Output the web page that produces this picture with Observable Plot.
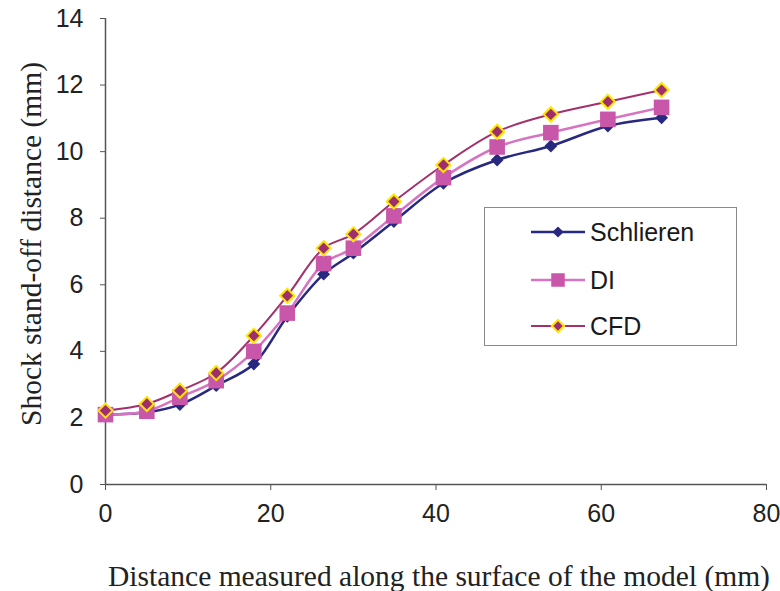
<!DOCTYPE html>
<html>
<head>
<meta charset="utf-8">
<script src="https://cdn.jsdelivr.net/npm/d3@7"></script>
<script src="https://cdn.jsdelivr.net/npm/@observablehq/plot@0.6"></script>
<style>
  html, body { margin: 0; padding: 0; background: #fff; }
  #wrap { position: relative; width: 780px; height: 591px; overflow: hidden; }
  .ytitle { position: absolute; left: 31px; top: 244px; transform: translate(-50%, -50%) rotate(-90deg);
    font-family: "Liberation Serif", "DejaVu Serif", serif; font-size: 29.5px; color: #222; white-space: nowrap; }
  .xtitle { position: absolute; left: 439px; top: 576px; transform: translate(-50%, -50%);
    font-family: "Liberation Serif", "DejaVu Serif", serif; font-size: 29.5px; color: #222; white-space: nowrap; }
  #legend { position: absolute; left: 484px; top: 207px; width: 253px; height: 139px;
    border: 1.5px solid #8a8a8a; background: #fff; box-sizing: border-box; }
  .row { position: absolute; left: 46px; height: 30px; display: flex; align-items: center;
    font-family: "Liberation Sans", Arial, sans-serif; font-size: 25px; color: #1a1a1a; }
  .row svg { margin-right: 5px; }
</style>
</head>
<body>
<div id="wrap">
  <div id="chart"></div>
  <div class="ytitle">Shock stand-off distance (mm)</div>
  <div class="xtitle">Distance measured along the surface of the model (mm)</div>
  <div id="legend"></div>
</div>
<script>
const distance = [0, 5.0, 9.0, 13.4, 17.95, 22.0, 26.4, 30.0, 34.9, 40.9, 47.4, 53.9, 60.8, 67.3];
const schlieren = [2.1, 2.17, 2.4, 2.97, 3.62, 5.05, 6.32, 6.95, 7.9, 9.05, 9.75, 10.17, 10.77, 11.02];
const di = [2.1, 2.2, 2.62, 3.12, 4.0, 5.15, 6.64, 7.1, 8.07, 9.22, 10.14, 10.57, 10.97, 11.33];
const cfd = [2.22, 2.42, 2.82, 3.35, 4.47, 5.67, 7.1, 7.52, 8.5, 9.6, 10.6, 11.12, 11.5, 11.85];
const seriesNames = ["Schlieren", "DI", "CFD"];
const xTicks = [0, 20, 40, 60, 80];
const yTicks = [0, 2, 4, 6, 8, 10, 12, 14];

const styles = {
  Schlieren: {line: "#27287f", width: 2.5, symbol: "diamond2", r: 5.8, fill: "#27287f", stroke: "none", sw: 0},
  DI: {line: "#d674c2", width: 2.5, symbol: "square", r: 8.8, fill: "#c957a9", stroke: "none", sw: 0},
  CFD: {line: "#a3306b", width: 2, symbol: "diamond2", r: 6.4, fill: "#9e2e6e", stroke: "#ffe600", sw: 2}
};

const valuesBy = {Schlieren: schlieren, DI: di, CFD: cfd};
const marks = [];
for (const name of seriesNames) {
  const s = styles[name];
  const data = distance.map((x, i) => ({x, y: valuesBy[name][i]}));
  marks.push(Plot.line(data, {x: "x", y: "y", stroke: s.line, strokeWidth: s.width, curve: "catmull-rom"}));
}
for (const name of seriesNames) {
  const s = styles[name];
  const data = distance.map((x, i) => ({x, y: valuesBy[name][i]}));
  marks.push(Plot.dot(data, {x: "x", y: "y", symbol: () => s.symbol, r: s.r, fill: s.fill,
    stroke: s.stroke, strokeWidth: s.sw}));
}

const chart = Plot.plot({
  width: 780, height: 591,
  marginLeft: 105, marginRight: 14, marginTop: 18, marginBottom: 107,
  style: {fontFamily: "Liberation Sans, Arial, sans-serif", color: "#222", background: "#fff"},
  x: {domain: [0, 80]},
  y: {domain: [0, 14]},
  symbol: {type: "identity"},
  marks: [
    Plot.axisY({ticks: yTicks, tickSize: 5, tickPadding: 17, label: null, stroke: "#555", fontSize: 25}),
    Plot.axisX({ticks: xTicks, tickSize: 6, tickPadding: 14, label: null, stroke: "#555", fontSize: 25}),
    Plot.ruleX([0], {stroke: "#555", strokeWidth: 1.5}),
    Plot.ruleY([0], {stroke: "#555", strokeWidth: 1.5}),
    ...marks
  ]
});
document.getElementById("chart").appendChild(chart);

// legend
const legend = document.getElementById("legend");
const rowTops = [9, 57, 103];
seriesNames.forEach((name, i) => {
  const s = styles[name];
  const row = document.createElement("div");
  row.className = "row";
  row.style.top = rowTops[i] + "px";
  const sym = d3.symbol(s.symbol === "square" ? d3.symbolSquare : d3.symbolDiamond2, Math.PI * s.r * s.r * 0.75)();
  row.innerHTML = `<svg width="54" height="30"><line x1="0" x2="54" y1="15" y2="15" stroke="${s.line}" stroke-width="${s.width}"/>` +
    `<path d="${sym}" transform="translate(27,15)" fill="${s.fill}" stroke="${s.stroke}" stroke-width="${s.sw}"/></svg><span>${name}</span>`;
  legend.appendChild(row);
});
</script>
</body>
</html>
